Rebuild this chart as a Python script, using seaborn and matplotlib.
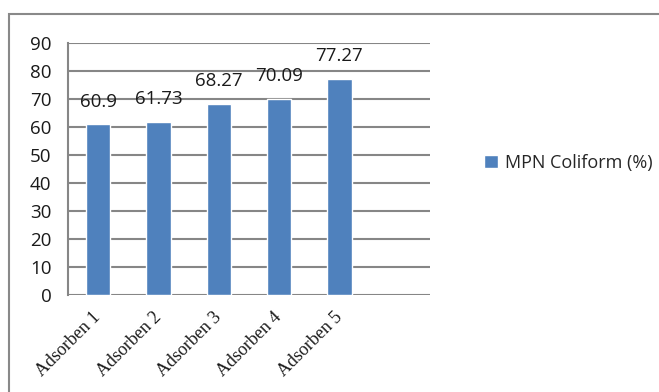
import matplotlib
matplotlib.use("Agg")
import matplotlib.pyplot as plt
import seaborn as sns
from matplotlib.patches import Rectangle


# Chart data
CATEGORIES = ["Adsorben 1", "Adsorben 2", "Adsorben 3", "Adsorben 4", "Adsorben 5"]
MPN_VALUES = [60.9, 61.73, 68.27, 70.09, 77.27]
VALUE_LABELS = ["60.9", "61.73", "68.27", "70.09", "77.27"]
Y_TICKS = [0, 10, 20, 30, 40, 50, 60, 70, 80, 90]
SERIES_NAME = "MPN Coliform (%)"

BAR_COLOR = "#4F81BD"
GRID_COLOR = "#868686"


def draw_chart():
    sns.set_theme(style="white")
    plt.rcParams["font.family"] = ["Open Sans", "DejaVu Sans"]

    fig = plt.figure(figsize=(6.59, 3.92), dpi=100)
    ax = fig.add_axes([68 / 659, 1 - 295 / 392, 362 / 659, 252 / 392])

    sns.barplot(x=CATEGORIES, y=MPN_VALUES, color=BAR_COLOR, width=0.4,
                saturation=1, label=SERIES_NAME, ax=ax)

    # Excel-like category axis with an empty sixth slot
    ax.set_xlim(-0.5, 5.5)
    ax.set_ylim(0, 90)
    ax.set_yticks(Y_TICKS)
    ax.set_yticklabels([str(t) for t in Y_TICKS], fontsize=13.5, color="#1a1a1a")
    ax.set_xticks(range(len(CATEGORIES)))
    ax.set_xticklabels(CATEGORIES, rotation=45, ha="right", va="center",
                       rotation_mode="anchor", fontsize=13,
                       family=["Liberation Serif"], color="#1a1a1a")
    ax.tick_params(axis="y", length=0, pad=12)
    ax.tick_params(axis="x", length=0, pad=14)
    ax.set_xlabel("")
    ax.set_ylabel("")

    ax.yaxis.grid(True, color=GRID_COLOR, linewidth=1.5)
    ax.set_axisbelow(True)
    for side in ["top", "right", "bottom"]:
        ax.spines[side].set_visible(False)
    ax.spines["left"].set_color(GRID_COLOR)
    ax.spines["left"].set_linewidth(1.5)

    ax.bar_label(ax.containers[0], labels=VALUE_LABELS, padding=10,
                 fontsize=13.5, color="#1a1a1a")

    ax.legend(loc="center left", bbox_to_anchor=(468 / 659, 1 - 163 / 392),
              bbox_transform=fig.transFigure, frameon=False, fontsize=13,
              handlelength=0.75, handleheight=0.75, handletextpad=0.4)

    # Outer chart border
    fig.patches.append(Rectangle((9 / 659, -0.1), 660 / 659, 1 - 14 / 392 + 0.1,
                                 transform=fig.transFigure, fill=False,
                                 edgecolor="#898989", linewidth=1.5))

    fig.savefig("out.png", dpi=100)


def main():
    draw_chart()


if __name__ == "__main__":
    main()
